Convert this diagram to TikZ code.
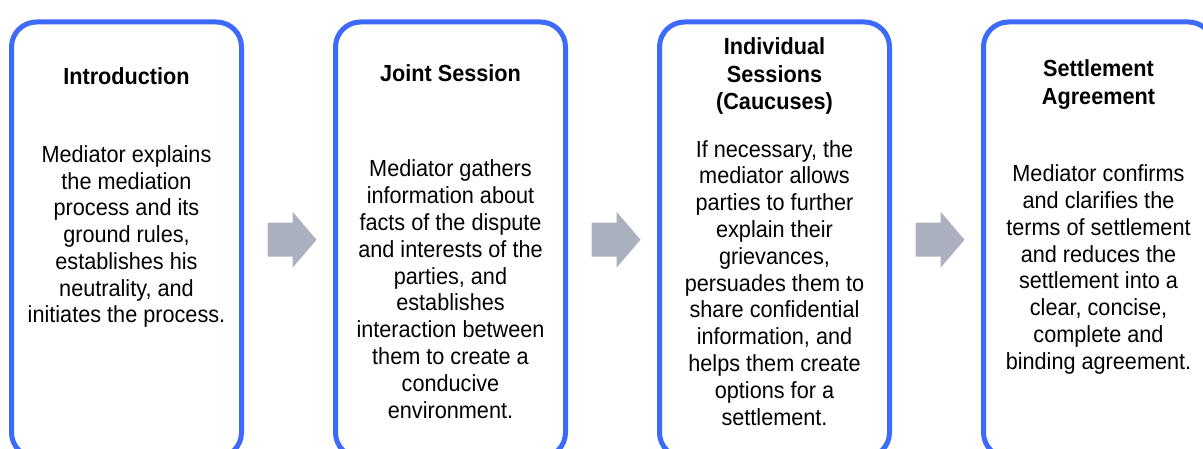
\documentclass[tikz,border=0pt]{standalone}
\usepackage{fontspec}
\setmainfont{Liberation Sans}[FakeStretch=0.93]
\usetikzlibrary{calc}
\definecolor{boxblue}{RGB}{60,106,252}
\definecolor{arrowgray}{RGB}{171,176,191}
\begin{document}
\begin{tikzpicture}[x=1pt,y=-1pt,
  stagebox/.style={draw=boxblue,line width=5pt,rounded corners=25pt,minimum width=230pt,minimum height=435.5pt,inner sep=0pt,anchor=north},
  titletext/.style={align=center,anchor=base,inner sep=0pt,font=\bfseries\fontsize{23.3}{27.5}\selectfont},
  bodytext/.style={align=center,anchor=base,inner sep=0pt,font=\fontsize{23.3}{26.8}\selectfont},
  blockarrow/.style={fill=arrowgray}]
\clip (0,0) rectangle (1203,449);
\fill[white] (0,0) rectangle (1203,449);
\node[stagebox] (b1) at (126.5,19.5) {};
\node[stagebox] (b2) at (450.5,19.5) {};
\node[stagebox] (b3) at (774.5,19.5) {};
\node[stagebox] (b4) at (1098.5,19.5) {};
% anchors are the baselines of the last lines
\node[titletext] (t1) at (126.5,85) {Introduction};
\node[bodytext] (d1) at (126.5,323) {Mediator explains\\the mediation\\process and its\\ground rules,\\establishes his\\neutrality, and\\initiates the process.};
\node[titletext] (t2) at (450.5,82) {Joint Session};
\node[bodytext] (d2) at (450.5,418) {Mediator gathers\\information about\\facts of the dispute\\and interests of the\\parties, and\\establishes\\interaction between\\them to create a\\conducive\\environment.};
\node[titletext] (t3) at (774.5,110) {Individual\\Sessions\\(Caucuses)};
\node[bodytext] (d3) at (774.5,425) {If necessary, the\\mediator allows\\parties to further\\explain their\\grievances,\\persuades them to\\share confidential\\information, and\\helps them create\\options for a\\settlement.};
\node[titletext] (t4) at (1098.5,104.5) {Settlement\\Agreement};
\node[bodytext] (d4) at (1098.5,369.3) {Mediator confirms\\and clarifies the\\terms of settlement\\and reduces the\\settlement into a\\clear, concise,\\complete and\\binding agreement.};
\foreach \s in {1,2,3}{
  \coordinate (a\s) at ($(b\s.east)+(23.5,0)$);
  \fill[blockarrow] ($(a\s)+(0,-17)$) -- ++(25,0) -- ++(0,-11) -- ++(24,28) -- ++(-24,28) -- ++(0,-11) -- ++(-25,0) -- cycle;
}
\end{tikzpicture}
\end{document}
